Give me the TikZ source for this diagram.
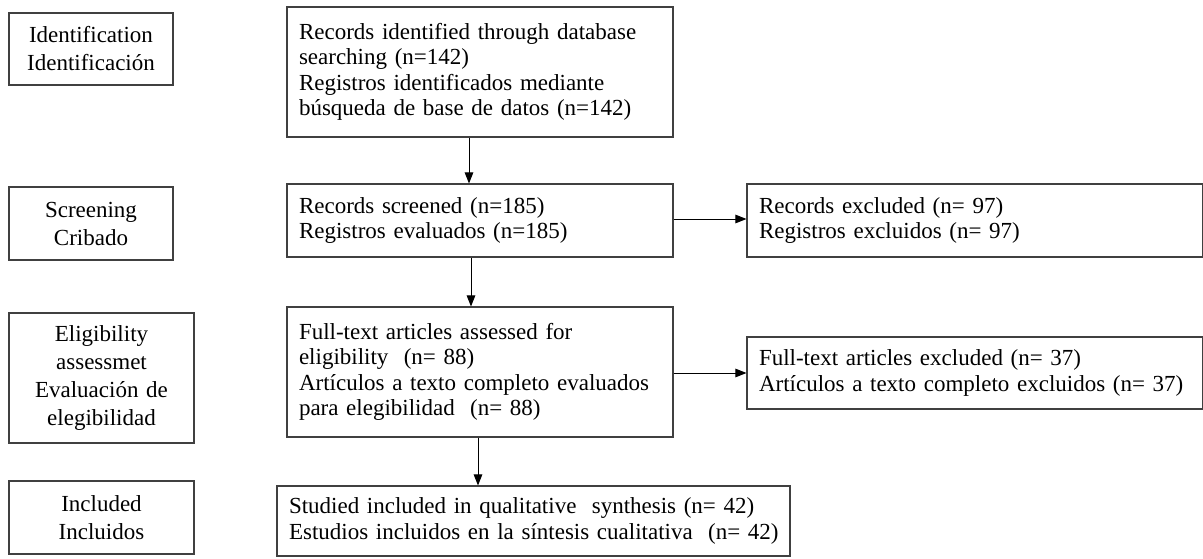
\documentclass[tikz,border=0pt]{standalone}
\usepackage{fontspec}
\setmainfont{Liberation Serif}
\usetikzlibrary{arrows.meta,calc}
% one unbreakable line of box text
\newcommand{\boxline}[1]{\mbox{#1}}
\tikzset{
  box/.style={draw=black!75, line width=1.1pt, inner xsep=12pt, inner ysep=0pt, text=black},
  stagebox/.style={box, align=center, inner xsep=4pt,
    font=\fontsize{23}{28}\selectfont},
  flowbox/.style={box, align=left,
    font=\fontsize{23}{25.5}\selectfont},
  arr/.style={line width=1pt, black, -{Triangle[length=11pt,width=8.5pt]}},
}
\begin{document}
\begin{tikzpicture}[x=1pt, y=-1pt]
\useasboundingbox (0,0) rectangle (1203,558);
\fill[white] (0,0) rectangle (1203,558);

% stage labels on the left
\node[stagebox, minimum width=164pt, minimum height=72pt, text width=156pt] (l1) at (91,49)
  {Identification\\Identificación};
\node[stagebox, minimum width=164pt, minimum height=73pt, text width=156pt] (l2) at (91,223.5)
  {Screening\\Cribado};
\node[stagebox, minimum width=185pt, minimum height=130pt, text width=177pt] (l3) at (101.5,378)
  {Eligibility\\assessmet\\Evaluación de\\elegibilidad};
\node[stagebox, minimum width=185pt, minimum height=73pt, text width=177pt] (l4) at (101.5,517.5)
  {Included\\Incluidos};

% main flow
\node[flowbox, minimum width=386pt, minimum height=130pt, text width=362pt] (m1) at (480,72)
  {\boxline{Records identified through database}\\\boxline{searching (n=142)}\\
   \boxline{Registros identificados mediante}\\\boxline{búsqueda de base de datos (n=142)}};
\node[flowbox, minimum width=386pt, minimum height=73pt, text width=362pt] (m2) at (480,220.5)
  {\boxline{Records screened (n=185)}\\\boxline{Registros evaluados (n=185)}};
\node[flowbox, minimum width=386pt, minimum height=130pt, text width=362pt] (m3) at (480,372)
  {\boxline{Full-text articles assessed for}\\\boxline{eligibility~ (n= 88)}\\
   \boxline{Artículos a texto completo evaluados}\\\boxline{para elegibilidad~ (n= 88)}};
\node[flowbox, minimum width=513pt, minimum height=70pt, text width=489pt] (m4) at (533.5,521)
  {\boxline{Studied included in qualitative~ synthesis (n= 42)}\\
   \boxline{Estudios incluidos en la síntesis cualitativa~ (n= 42)}};

% exclusions
\node[flowbox, minimum width=456pt, minimum height=73pt, text width=432pt] (r1) at (975,220.5)
  {\boxline{Records excluded (n= 97)}\\\boxline{Registros excluidos (n= 97)}};
\node[flowbox, minimum width=456pt, minimum height=72pt, text width=432pt] (r2) at (975,373)
  {\boxline{Full-text articles excluded (n= 37)}\\\boxline{Artículos a texto completo excluidos (n= 37)}};

% connectors
\draw[arr] (469,0 |- m1.south) -- (469,0 |- m2.north);
\draw[arr] (471,0 |- m2.south) -- (471,0 |- m3.north);
\draw[arr] (478,0 |- m3.south) -- (478,0 |- m4.north);
\draw[arr] (m2.east |- 0,219) -- (r1.west |- 0,219);
\draw[arr] (m3.east |- 0,373) -- (r2.west |- 0,373);
\end{tikzpicture}
\end{document}
